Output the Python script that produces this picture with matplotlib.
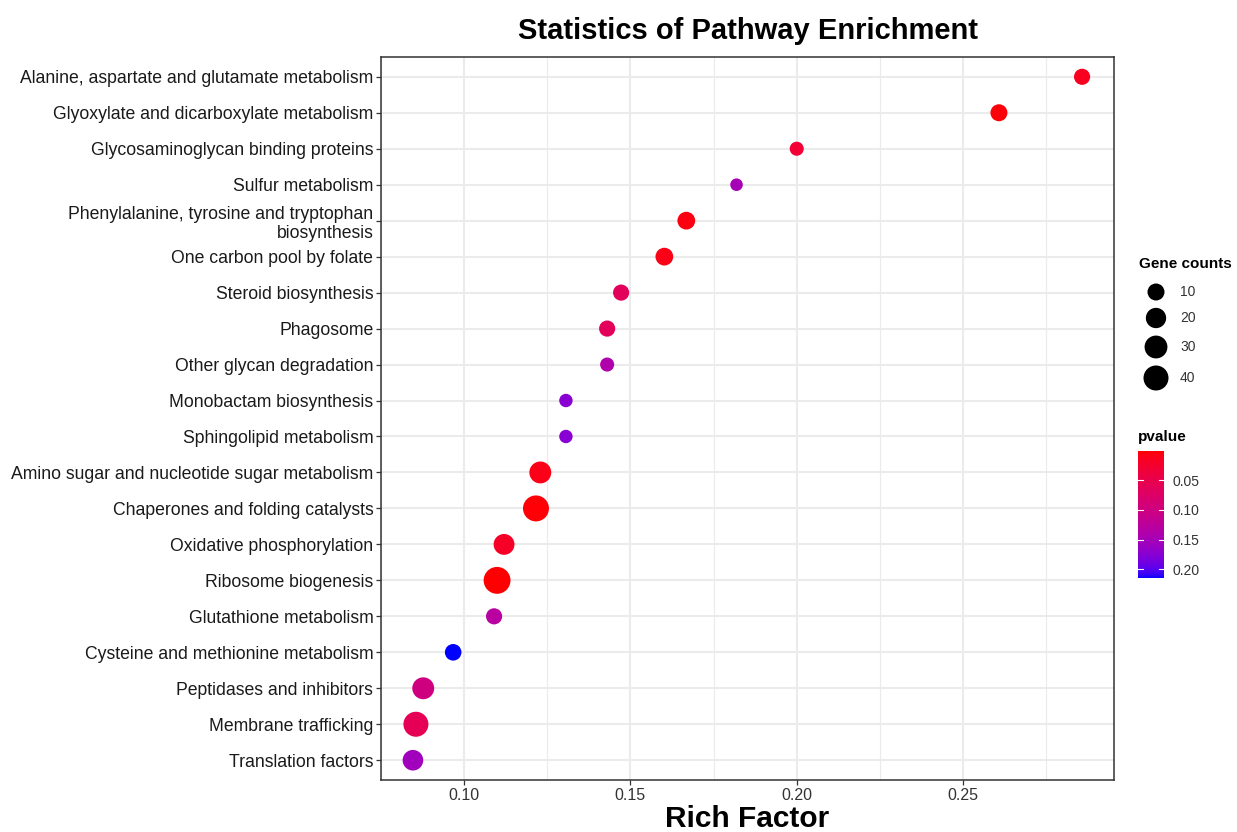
import numpy as np
import matplotlib
matplotlib.use('Agg')
import matplotlib.pyplot as plt
from matplotlib.colors import ListedColormap, Normalize

# pathways top to bottom as shown on the y axis
pathways = [
    'Alanine, aspartate and glutamate metabolism',
    'Glyoxylate and dicarboxylate metabolism',
    'Glycosaminoglycan binding proteins',
    'Sulfur metabolism',
    'Phenylalanine, tyrosine and tryptophan\nbiosynthesis',
    'One carbon pool by folate',
    'Steroid biosynthesis',
    'Phagosome',
    'Other glycan degradation',
    'Monobactam biosynthesis',
    'Sphingolipid metabolism',
    'Amino sugar and nucleotide sugar metabolism',
    'Chaperones and folding catalysts',
    'Oxidative phosphorylation',
    'Ribosome biogenesis',
    'Glutathione metabolism',
    'Cysteine and methionine metabolism',
    'Peptidases and inhibitors',
    'Membrane trafficking',
    'Translation factors',
]
rich_factor = [0.2858, 0.2608, 0.2000, 0.1819, 0.1668, 0.1602, 0.1472, 0.1430,
               0.1430, 0.1306, 0.1306, 0.1229, 0.1216, 0.1120, 0.1099, 0.1090,
               0.0967, 0.0877, 0.0855, 0.0846]
gene_counts = [8, 10, 4, 2, 12, 12, 8, 8, 4, 3, 3, 26, 45, 22, 50, 8, 9, 26, 40, 21]
pvalues = [0.015, 0.004, 0.030, 0.150, 0.008, 0.010, 0.065, 0.065, 0.140, 0.175,
           0.175, 0.010, 0.003, 0.020, 0.002, 0.130, 0.215, 0.100, 0.060, 0.155]

size_breaks = [10, 20, 30, 40]
p_ticks = [0.05, 0.10, 0.15, 0.20]
x_ticks = [0.10, 0.15, 0.20, 0.25]
x_minor = [0.075, 0.125, 0.175, 0.225, 0.275]
p_min, p_max = 0.0005, 0.215

W, H = 1237, 832
FONT = 'Liberation Sans'
plt.rcParams['font.family'] = [FONT, 'DejaVu Sans']


# red -> blue gradient interpolated in Lab space like ggplot's scale_colour_gradient
M = np.array([[0.4124, 0.3576, 0.1805],
              [0.2126, 0.7152, 0.0722],
              [0.0193, 0.1192, 0.9505]])
WHITE = np.array([0.95047, 1.0, 1.08883])


def to_lab(rgb):
    rgb = np.asarray(rgb, float)
    lin = np.where(rgb <= 0.04045, rgb / 12.92, ((rgb + 0.055) / 1.055) ** 2.4)
    xyz = M @ lin / WHITE
    f = np.where(xyz > (6 / 29) ** 3, np.cbrt(xyz), xyz / (3 * (6 / 29) ** 2) + 4 / 29)
    return np.array([116 * f[1] - 16, 500 * (f[0] - f[1]), 200 * (f[1] - f[2])])


def from_lab(lab):
    L, a, b = lab
    fy = (L + 16) / 116
    f = np.array([fy + a / 500, fy, fy - b / 200])
    xyz = np.where(f > 6 / 29, f ** 3, 3 * (6 / 29) ** 2 * (f - 4 / 29)) * WHITE
    lin = np.clip(np.linalg.solve(M, xyz), 0, 1)
    return np.clip(np.where(lin <= 0.0031308, 12.92 * lin, 1.055 * lin ** (1 / 2.4) - 0.055), 0, 1)


lab_lo, lab_hi = to_lab([1, 0, 0]), to_lab([0, 0, 1])
cmap = ListedColormap([from_lab(lab_lo + t * (lab_hi - lab_lo)) for t in np.linspace(0, 1, 256)])
norm = Normalize(p_min, p_max)


def dot_size(c):
    d_px = 9 + 2.53 * np.sqrt(np.asarray(c, float))
    return (d_px * 0.72) ** 2


fig = plt.figure(figsize=(W / 100, H / 100), dpi=100)
ax = fig.add_axes([381 / W, 1 - 780 / H, (1114 - 381) / W, (780 - 57) / H])

ypos = np.arange(len(pathways))
ax.scatter(rich_factor, ypos, s=dot_size(gene_counts), c=pvalues, cmap=cmap, norm=norm,
           edgecolors='none', zorder=3)

ax.set_xlim(0.0751, 0.2954)
ax.set_ylim(len(pathways) - 1 + 0.55, -0.55)
ax.set_yticks(ypos)
ax.set_yticklabels(pathways, linespacing=1.15)
ax.set_xticks(x_ticks)
ax.set_xticklabels(['%.2f' % v for v in x_ticks])
ax.set_xticks(x_minor, minor=True)
ax.tick_params(axis='x', which='minor', length=0)
ax.grid(True, which='major', color='#EBEBEB', linewidth=1.5, zorder=0)
ax.grid(True, which='minor', axis='x', color='#EBEBEB', linewidth=0.8, zorder=0)
ax.set_axisbelow(True)
for sp in ax.spines.values():
    sp.set_color('#333333')
    sp.set_linewidth(1.1)
ax.tick_params(axis='both', which='major', length=3.5, width=0.9, color='#333333',
               labelsize=12.7, labelcolor='#1a1a1a', pad=2)
ax.tick_params(axis='x', labelsize=11.5, labelcolor='#333333')

ax.set_title('Statistics of Pathway Enrichment', fontsize=21, fontweight='bold', pad=13)
ax.set_xlabel('Rich Factor', fontsize=21.5, fontweight='bold', labelpad=2)

# size legend
lax = fig.add_axes([1125 / W, 1 - 395 / H, 112 / W, 150 / H])
lax.set_xlim(1125, 1237)
lax.set_ylim(395, 245)
lax.axis('off')
lax.text(1139, 264, 'Gene counts', fontsize=11, fontweight='bold', va='center', ha='left')
for cnt, yy in zip(size_breaks, [292, 318, 347, 378]):
    lax.scatter([1156], [yy], s=dot_size(cnt), color='black', edgecolors='none')
    lax.text(1180, yy, str(cnt), fontsize=10, va='center', ha='left', color='#333333')

# p value colourbar (red on top)
fig.text(1138 / W, 1 - 437 / H, 'pvalue', fontsize=11, fontweight='bold', va='center', ha='left')
cax = fig.add_axes([1138 / W, 1 - 578 / H, 26 / W, 127 / H])
grad = np.linspace(p_min, p_max, 256).reshape(-1, 1)
cax.imshow(grad, cmap=cmap, norm=norm, aspect='auto', origin='lower',
           extent=[0, 1, p_min, p_max])
cax.set_xlim(0, 1)
cax.set_ylim(p_max, p_min)
cax.set_xticks([])
cax.yaxis.tick_right()
cax.set_yticks(p_ticks)
cax.set_yticklabels(['%.2f' % v for v in p_ticks])
cax.tick_params(axis='y', length=0, labelsize=10, labelcolor='#333333', pad=6)
for p in p_ticks:
    cax.axhline(p, xmin=0, xmax=0.2, color='white', linewidth=0.8)
    cax.axhline(p, xmin=0.8, xmax=1, color='white', linewidth=0.8)
for sp in cax.spines.values():
    sp.set_visible(False)

fig.savefig('out.png', dpi=100)
